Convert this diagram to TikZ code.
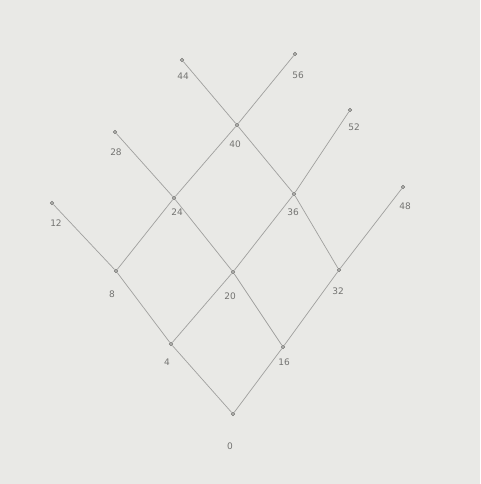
\documentclass[tikz,border=0pt]{standalone}
\usepackage{fontspec}
\setmainfont{DejaVu Sans}
\definecolor{paper}{RGB}{233,233,230}
\definecolor{pencil}{RGB}{160,160,158}
\definecolor{lead}{RGB}{115,115,113}
\begin{document}
\begin{tikzpicture}[x=1pt,y=-1pt,
  pt/.style={circle,draw=lead,fill=paper!60!lead,line width=0.6pt,inner sep=0pt,minimum size=3.5pt},
  lab/.style={text=lead,font=\fontsize{9}{10}\selectfont,inner sep=0pt},
  edge/.style={draw=pencil,line width=0.7pt}]
\fill[paper] (0,0) rectangle (480,484);
\useasboundingbox (0,0) rectangle (480,484);
% points
\node[pt] (n0)  at (233,414) {};
\node[pt] (n4)  at (171,344) {};
\node[pt] (n16) at (283,347) {};
\node[pt] (n8)  at (116,271) {};
\node[pt] (n20) at (233,272) {};
\node[pt] (n32) at (339,270) {};
\node[pt] (n12) at (52,203) {};
\node[pt] (n24) at (174,198) {};
\node[pt] (n36) at (294,194) {};
\node[pt] (n48) at (403,187) {};
\node[pt] (n28) at (115,132) {};
\node[pt] (n40) at (237,125) {};
\node[pt] (n52) at (350,110) {};
\node[pt] (n44) at (182,60) {};
\node[pt] (n56) at (295,54) {};
% edges
\path[edge] (n0)--(n4) (n0)--(n16)
  (n4)--(n8) (n4)--(n20) (n16)--(n20) (n16)--(n32)
  (n8)--(n12) (n8)--(n24) (n20)--(n24) (n20)--(n36) (n32)--(n36) (n32)--(n48)
  (n24)--(n28) (n24)--(n40) (n36)--(n40) (n36)--(n52)
  (n40)--(n44) (n40)--(n56);
% labels
\node[lab] (l0)  at (230,446) {0};
\node[lab] (l4)  at (167,362) {4};
\node[lab] (l16) at (284,362) {16};
\node[lab] (l8)  at (112,294) {8};
\node[lab] (l20) at (230,296) {20};
\node[lab] (l32) at (338,291) {32};
\node[lab] (l12) at (56,223) {12};
\node[lab] (l24) at (177,212) {24};
\node[lab] (l36) at (293,212) {36};
\node[lab] (l48) at (405,206) {48};
\node[lab] (l28) at (116,152) {28};
\node[lab] (l40) at (235,144) {40};
\node[lab] (l52) at (354,127) {52};
\node[lab] (l44) at (183,76) {44};
\node[lab] (l56) at (298,75) {56};
\end{tikzpicture}
\end{document}
